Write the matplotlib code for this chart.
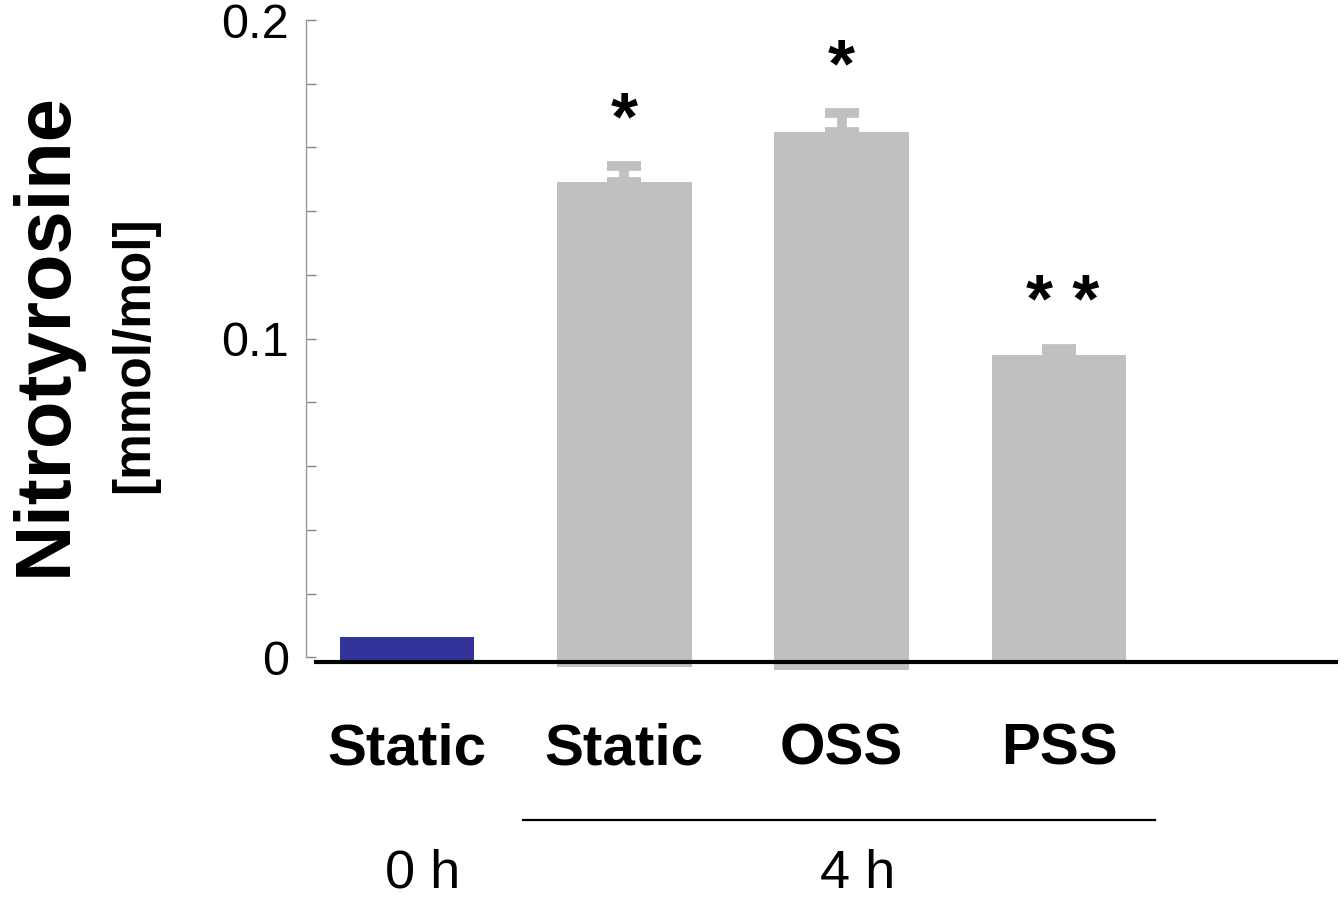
import matplotlib
matplotlib.use("Agg")
import matplotlib.pyplot as plt
from matplotlib.transforms import blended_transform_factory
from matplotlib.ticker import MultipleLocator

plt.rcParams['font.family'] = ['Liberation Sans', 'DejaVu Sans']

# data
categories = ['Static', 'Static', 'OSS', 'PSS']
groups = ['0 h', '4 h']
values = [0.0063, 0.1492, 0.1650, 0.0948]
errors = [0.0, 0.0049, 0.0058, 0.0020]
bar_bottom = [-0.0016, -0.0031, -0.0041, -0.0016]
stars = ['', '*', '*', '* *']
bar_colors = ['#333399', '#c0c0c0', '#c0c0c0', '#c0c0c0']

W, H = 1344, 901
fig = plt.figure(figsize=(W / 100, H / 100), dpi=100)
# axes placed in pixels: spine x=306, y=-0.004 at 670px, y=0.2 at 20px
ax = fig.add_axes([306 / W, (H - 670) / H, (1336 - 306) / W, 650 / H])

x = list(range(len(categories)))
heights = [v - b for v, b in zip(values, bar_bottom)]
ax.bar(x, heights, bottom=bar_bottom, width=0.62, color=bar_colors, zorder=2)

# upper error bars only
for xi, v, e in zip(x, values, errors):
    if e > 0:
        ax.errorbar(xi, v, yerr=[[0], [e]], fmt='none', ecolor='#c0c0c0',
                    elinewidth=7, capsize=12, capthick=7, zorder=2)

# significance marks
for xi, v, e, s in zip(x, values, errors, stars):
    if s:
        ax.annotate(s, xy=(xi, v + e), xytext=(3 if ' ' in s else 0, 9),
                    textcoords='offset points', ha='center', va='bottom',
                    fontsize=50, fontweight='bold')

ax.set_xlim(-0.465, 4.275)
ax.set_ylim(-0.004, 0.2)

# baseline
ax.plot([-0.419, 4.275], [-0.0016, -0.0016], color='black', lw=3,
        clip_on=False, zorder=3)

for side in ['top', 'right', 'bottom']:
    ax.spines[side].set_visible(False)
ax.spines['left'].set_bounds(0, 0.2)
ax.spines['left'].set_color('#999999')
ax.spines['left'].set_linewidth(1)

ax.set_yticks([0, 0.1, 0.2])
ax.set_yticklabels(['0', '0.1', '0.2'])
ax.yaxis.set_minor_locator(MultipleLocator(0.02))
ax.tick_params(axis='y', which='both', direction='in', length=7, width=1,
               color='#888888', labelsize=35, pad=12)

ax.set_xticks(x)
ax.set_xticklabels(categories, fontsize=42, fontweight='bold')
ax.tick_params(axis='x', length=0, pad=38)

# group line and labels
trans = blended_transform_factory(ax.transData, fig.transFigure)
ax.plot([0.534, 3.44], [(H - 820) / H, (H - 820) / H], color='black', lw=1.6,
        transform=trans, clip_on=False)
group_x = [0.074, 2.075]
for gx, g in zip(group_x, groups):
    ax.text(gx, (H - 874) / H, g, transform=trans, ha='center', va='center',
            fontsize=39)

fig.text(45 / W, (H - 334) / H, 'Nitrotyrosine', rotation=90, ha='center',
         va='center', fontsize=56, fontweight='bold')
fig.text(135 / W, (H - 355) / H, '[mmol/mol]', rotation=90, ha='center',
         va='center', fontsize=37, fontweight='bold')

fig.savefig('out.png', dpi=100)
